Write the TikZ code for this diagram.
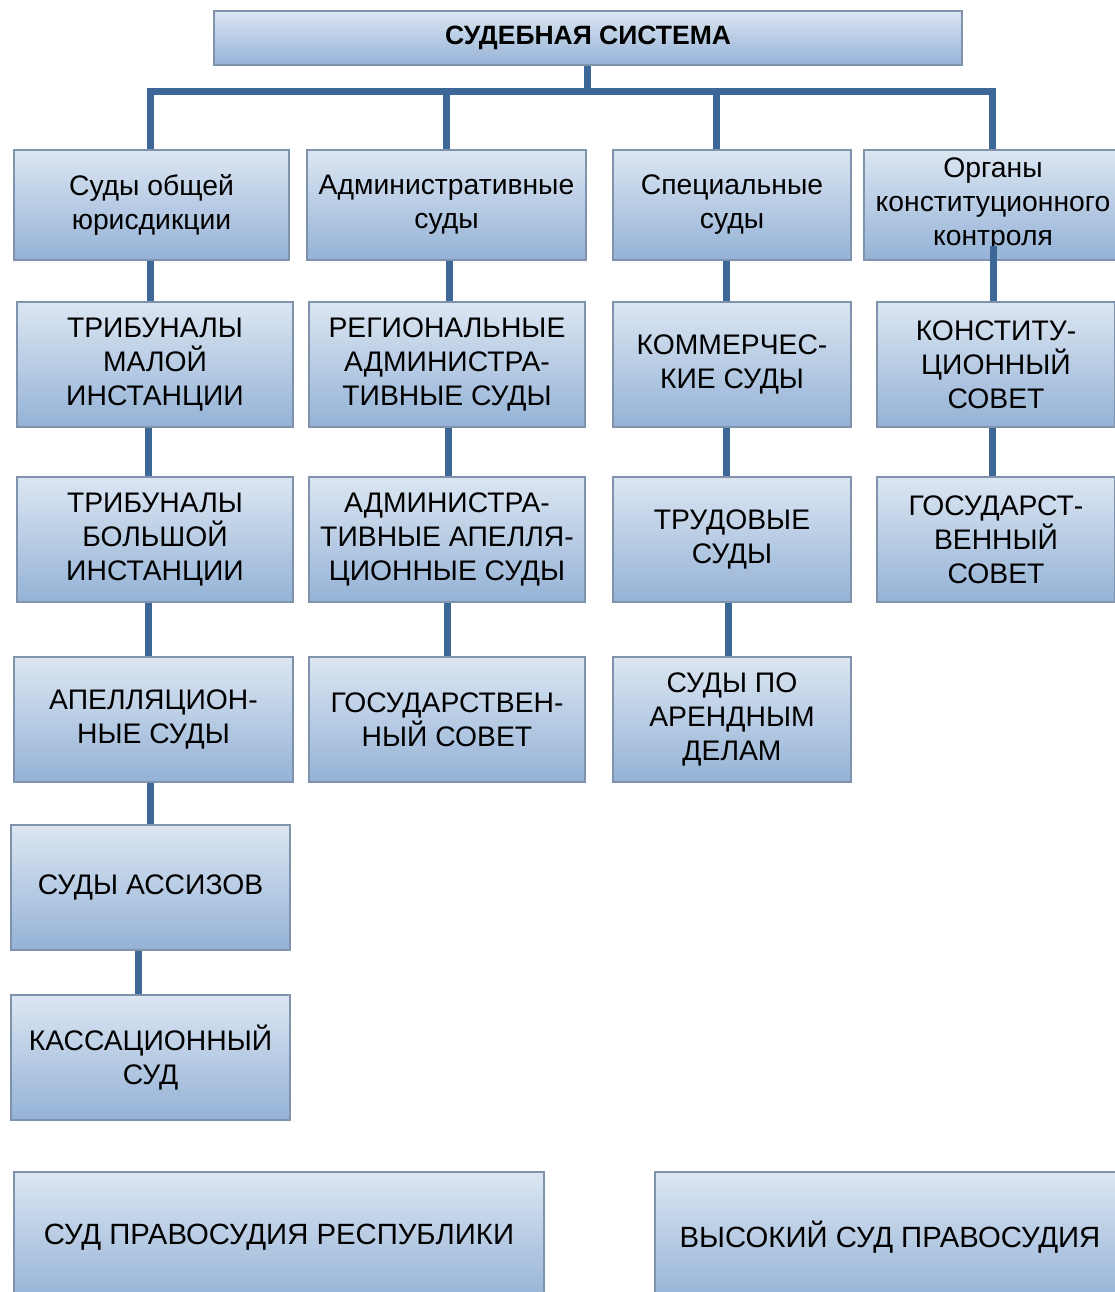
\documentclass[tikz,border=0pt]{standalone}
\usepackage{fontspec}
\setmainfont{Liberation Sans}
\usetikzlibrary{calc}
\definecolor{boxtop}{HTML}{DCE6F2}
\definecolor{boxbot}{HTML}{94B2D6}
\definecolor{boxborder}{HTML}{8093AC}
\definecolor{conncol}{HTML}{3C6797}
\tikzset{
  box/.style={draw=boxborder, line width=1.3pt, top color=boxtop, bottom color=boxbot,
    align=center, inner sep=0pt, text=black,
    font=\fontsize{28.3}{34}\selectfont},
  conn/.style={draw=conncol, line width=7pt, line join=miter},
}
\begin{document}
\begin{tikzpicture}[x=1pt,y=-1pt]
\useasboundingbox (0,0) rectangle (1115,1292);
\fill[white] (0,0) rectangle (1115,1292);
\clip (0,0) rectangle (1115,1292);

% top
\node[box, minimum width=748pt, minimum height=54pt, font=\fontsize{26.5}{30}\selectfont\bfseries] (top) at (588,38) {СУДЕБНАЯ СИСТЕМА};

% row 1
\node[box, minimum width=275pt, minimum height=110pt] (A1) at (151.5,205) {Суды общей\\юрисдикции};
\node[box, minimum width=279pt, minimum height=110pt] (B1) at (446.5,205) {Административные\\суды};
\node[box, minimum width=238pt, minimum height=110pt] (C1) at (732,205) {Специальные\\суды};
\node[box, minimum width=258pt, minimum height=110pt] (D1) at (993,205) {Органы\\конституционного\\контроля};

% row 2
\node[box, minimum width=276pt, minimum height=125pt] (A2) at (155,364.5) {ТРИБУНАЛЫ\\МАЛОЙ\\ИНСТАНЦИИ};
\node[box, minimum width=276pt, minimum height=125pt] (B2) at (447,364.5) {РЕГИОНАЛЬНЫЕ\\АДМИНИСТРА-\\ТИВНЫЕ СУДЫ};
\node[box, minimum width=238pt, minimum height=125pt] (C2) at (732,364.5) {КОММЕРЧЕС-\\КИЕ СУДЫ};
\node[box, minimum width=238pt, minimum height=125pt] (D2) at (996,364.5) {КОНСТИТУ-\\ЦИОННЫЙ\\СОВЕТ};

% row 3
\node[box, minimum width=276pt, minimum height=125pt] (A3) at (155,539.5) {ТРИБУНАЛЫ\\БОЛЬШОЙ\\ИНСТАНЦИИ};
\node[box, minimum width=276pt, minimum height=125pt] (B3) at (447,539.5) {АДМИНИСТРА-\\ТИВНЫЕ АПЕЛЛЯ-\\ЦИОННЫЕ СУДЫ};
\node[box, minimum width=238pt, minimum height=125pt] (C3) at (732,539.5) {ТРУДОВЫЕ\\СУДЫ};
\node[box, minimum width=238pt, minimum height=125pt] (D3) at (996,539.5) {ГОСУДАРСТ-\\ВЕННЫЙ\\СОВЕТ};

% row 4
\node[box, minimum width=279pt, minimum height=125pt] (A4) at (153.5,719.5) {АПЕЛЛЯЦИОН-\\НЫЕ СУДЫ};
\node[box, minimum width=276pt, minimum height=125pt] (B4) at (447,719.5) {ГОСУДАРСТВЕН-\\НЫЙ СОВЕТ};
\node[box, minimum width=238pt, minimum height=125pt] (C4) at (732,719.5) {СУДЫ ПО\\АРЕНДНЫМ\\ДЕЛАМ};

% rows 5-6
\node[box, minimum width=279pt, minimum height=125pt] (A5) at (150.5,887.5) {СУДЫ АССИЗОВ};
\node[box, minimum width=279pt, minimum height=125pt] (A6) at (150.5,1057.5) {КАССАЦИОННЫЙ\\СУД};

% bottom
\node[box, minimum width=530pt, minimum height=130pt, font=\fontsize{29.3}{34}\selectfont] (E) at (279,1237) {СУД ПРАВОСУДИЯ РЕСПУБЛИКИ};
\node[box, minimum width=470pt, minimum height=130pt, font=\fontsize{29.3}{34}\selectfont] (F) at (890,1237) {ВЫСОКИЙ СУД ПРАВОСУДИЯ};

% trunk connectors
\coordinate (barL) at (150,92);
\coordinate (barR) at (992,92);
\draw[conn] (top.south -| 587,0) -- (587,92);
\draw[conn] (A1.north -| 150,0) -- (barL) -- (barR) -- (D1.north -| 992,0);
\draw[conn] (B1.north -| 446,0) -- (446,92);
\draw[conn] (C1.north -| 716,0) -- (716,92);

% column A
\draw[conn] (A1.south -| 150,0) -- (A2.north -| 150,0);
\draw[conn] (A2.south -| 148,0) -- (A3.north -| 148,0);
\draw[conn] (A3.south -| 148,0) -- (A4.north -| 148,0);
\draw[conn] (A4.south -| 150,0) -- (A5.north -| 150,0);
\draw[conn] (A5.south -| 138,0) -- (A6.north -| 138,0);
% column B
\draw[conn] (B1.south -| 449,0) -- (B2.north -| 449,0);
\draw[conn] (B2.south -| 448,0) -- (B3.north -| 448,0);
\draw[conn] (B3.south -| 447,0) -- (B4.north -| 447,0);
% column C
\draw[conn] (C1.south -| 726,0) -- (C2.north -| 726,0);
\draw[conn] (C2.south -| 726,0) -- (C3.north -| 726,0);
\draw[conn] (C3.south -| 728,0) -- (C4.north -| 728,0);
% column D
\draw[conn] ([yshift=15pt]D1.south -| 993,0) -- (D2.north -| 993,0);
\draw[conn] (D2.south -| 992,0) -- (D3.north -| 992,0);
\end{tikzpicture}
\end{document}
